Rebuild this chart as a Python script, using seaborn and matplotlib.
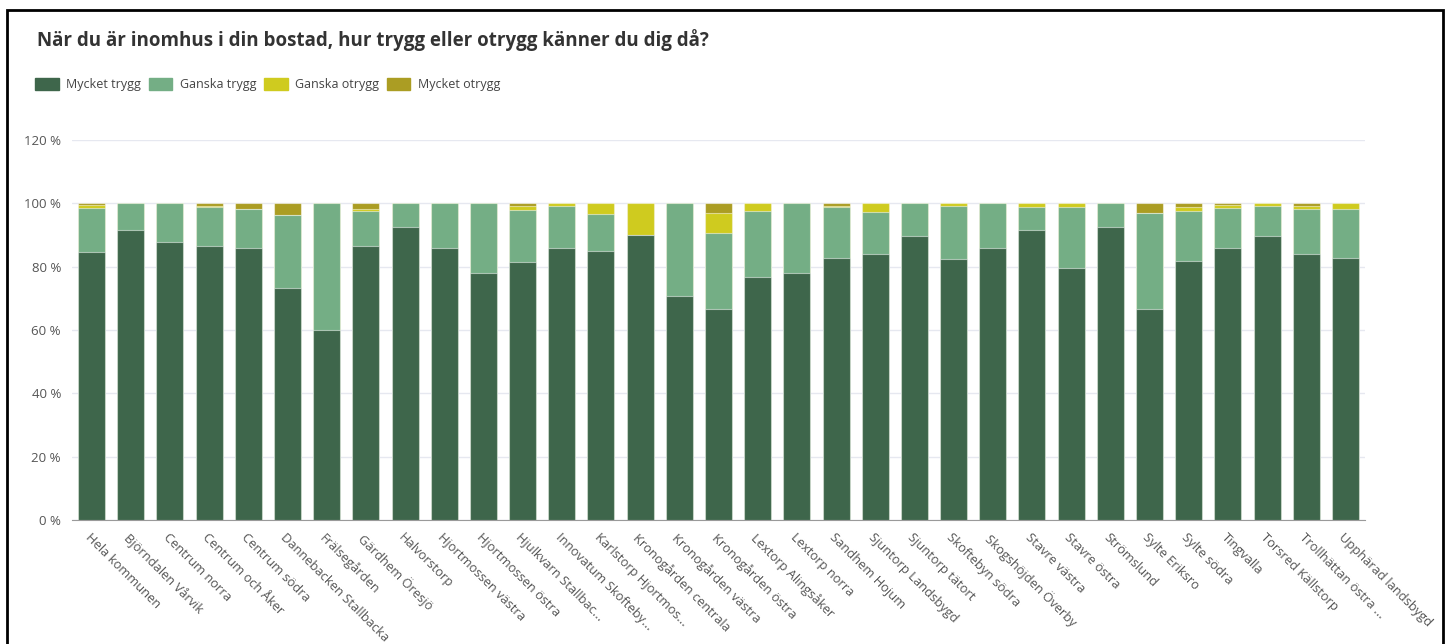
import numpy as np
import pandas as pd
import matplotlib.pyplot as plt
import matplotlib.patches as mpatches
import seaborn as sns

categories = ["Hela kommunen", "Björndalen Vårvik", "Centrum norra", "Centrum och Åker",
              "Centrum södra", "Dannebacken Stallbacka", "Frälsegården", "Gärdhem Öresjö",
              "Halvorstorp", "Hjortmossen västra", "Hjortmossen östra", "Hjulkvarn Stallbac...",
              "Innovatum Skofteby...", "Karlstorp Hjortmos...", "Kronogården centrala",
              "Kronogården västra", "Kronogården östra", "Lextorp Alingsåker", "Lextorp norra",
              "Sandhem Hojum", "Sjuntorp Landsbygd", "Sjuntorp tätort", "Skoftebyn södra",
              "Skogshöjden Överby", "Stavre västra", "Stavre östra", "Strömslund",
              "Sylte Eriksro", "Sylte södra", "Tingvalla", "Torsred Källstorp",
              "Trollhättan östra ...", "Upphärad landsbygd"]

mycket_trygg = [84.7, 91.7, 87.8, 86.6, 86.0, 73.4, 60.0, 86.5, 92.5, 86.0, 78.0, 81.5, 85.8,
                85.0, 90.0, 70.8, 66.7, 76.8, 78.0, 82.7, 84.0, 89.6, 82.4, 86.0, 91.7, 79.6,
                92.5, 66.7, 81.9, 85.8, 89.6, 83.9, 82.7]
ganska_trygg = [13.9, 8.3, 12.2, 12.4, 12.1, 22.9, 40.0, 11.2, 7.5, 14.0, 22.0, 16.4, 13.4,
                11.5, 0.0, 29.2, 24.0, 20.7, 22.0, 16.3, 13.2, 10.4, 16.8, 14.0, 7.0, 19.2,
                7.5, 30.2, 15.6, 12.8, 9.6, 14.4, 15.5]
ganska_otrygg = [0.9, 0, 0, 0.3, 0, 0, 0, 0.4, 0, 0, 0, 1.4, 0.8, 3.5, 10.0, 0, 6.3, 2.5, 0,
                 0.3, 2.8, 0, 0.8, 0, 1.3, 1.2, 0, 0, 1.5, 0.9, 0.8, 1.0, 1.8]
mycket_otrygg = [0.5, 0, 0, 0.7, 1.9, 3.7, 0, 1.9, 0, 0, 0, 0.7, 0, 0, 0, 0, 3.0, 0, 0,
                 0.7, 0, 0, 0, 0, 0, 0, 0, 3.1, 1.0, 0.5, 0, 0.7, 0]

series = ["Mycket trygg", "Ganska trygg", "Ganska otrygg", "Mycket otrygg"]
colors = ["#3e664b", "#74ae85", "#cfcb1f", "#ab9d23"]

df = pd.DataFrame({"omrade": categories,
                   "Mycket trygg": mycket_trygg,
                   "Ganska trygg": ganska_trygg,
                   "Ganska otrygg": ganska_otrygg,
                   "Mycket otrygg": mycket_otrygg})
cum = df[series].cumsum(axis=1)

sns.set_style("white")
plt.rcParams["font.family"] = ["Open Sans", "DejaVu Sans"]

fig = plt.figure(figsize=(14.51, 6.44), dpi=100)
ax = fig.add_axes([72 / 1451, 124 / 644, (1365 - 72) / 1451, 380 / 644])

# stacked bars: draw cumulative totals from the top layer down
for name, col in reversed(list(zip(series, colors))):
    sns.barplot(x=df["omrade"], y=cum[name], color=col, saturation=1, width=0.69,
                edgecolor=(1, 1, 1, 0.5), linewidth=0.8, ax=ax)

ax.set_xlim(-0.5, len(categories) - 0.5)
ax.set_ylim(0, 120)
ax.set_yticks(np.arange(0, 121, 20))
ax.set_yticklabels([f"{v} %" for v in range(0, 121, 20)], fontsize=9.5, color="#555555")
ax.yaxis.grid(True, color="#e6e8f0", lw=1)
ax.set_axisbelow(True)
ax.set_xlabel("")
ax.set_ylabel("")
for s in ["top", "right", "left"]:
    ax.spines[s].set_visible(False)
ax.spines["bottom"].set_color("#9a9a9a")
ax.tick_params(axis="y", length=0, pad=8)

ax.set_xticks(np.arange(len(categories)))
ax.set_xticklabels(categories, rotation=-45, ha="left", va="top", rotation_mode="anchor",
                   fontsize=9.3, color="#555555")
ax.tick_params(axis="x", which="major", length=0, pad=8)
ax.set_xticks(np.arange(len(categories) + 1) - 0.5, minor=True)
ax.tick_params(axis="x", which="minor", length=5, color="#9a9a9a", width=1)

fig.text(37 / 1451, 0.938, "När du är inomhus i din bostad, hur trygg eller otrygg känner du dig då?",
         fontsize=13.5, fontweight="bold", color="#333333", va="center", ha="left")

handles = [mpatches.Patch(facecolor=c, edgecolor=c, label=s) for s, c in zip(series, colors)]
fig.legend(handles=handles, loc="center left", bbox_to_anchor=(35 / 1451, 0.869), ncol=4,
           frameon=False, fontsize=9.0, handlelength=1.9, handleheight=1.1, handletextpad=0.6,
           columnspacing=0.6, borderpad=0, borderaxespad=0, labelcolor="#444444")

fig.add_artist(mpatches.Rectangle((7 / 1451, -0.02), (1443 - 7) / 1451, 1.02 - 10 / 644,
                                  fill=False, edgecolor="black", lw=2, transform=fig.transFigure))

fig.savefig("out.png", dpi=100)
